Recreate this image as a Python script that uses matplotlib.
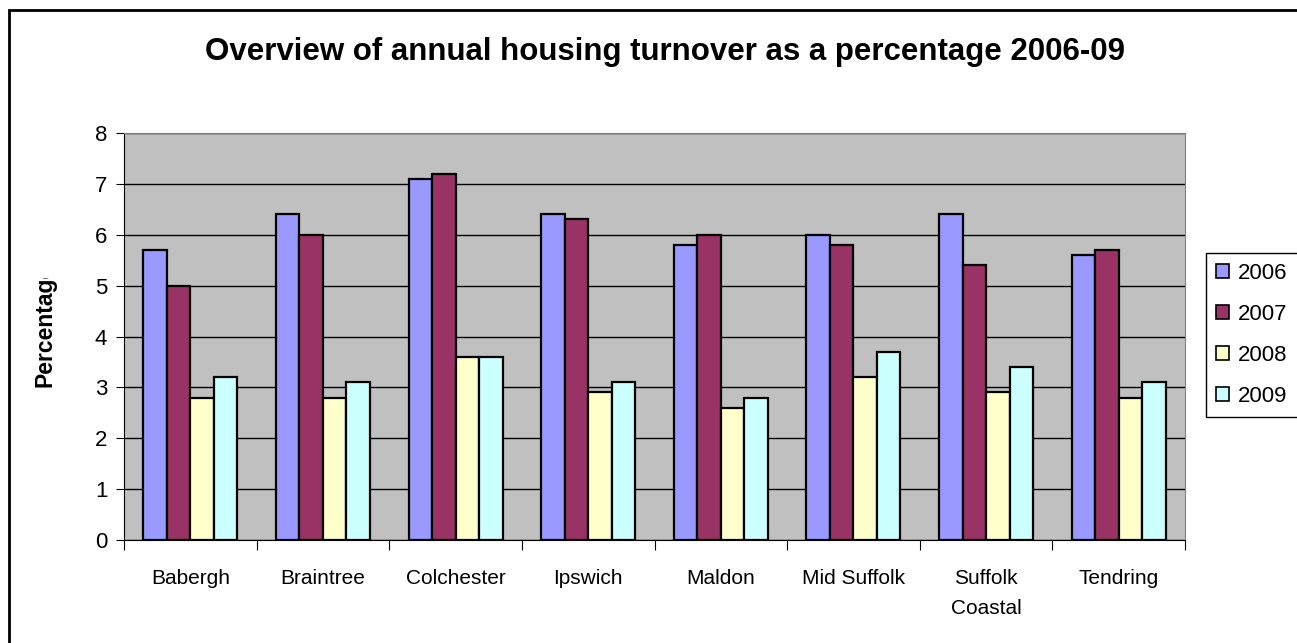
import matplotlib
matplotlib.use("Agg")
import matplotlib.pyplot as plt
from matplotlib.patches import Rectangle, Patch
from matplotlib.transforms import Bbox
import numpy as np

plt.rcParams['font.family'] = ['Liberation Sans', 'DejaVu Sans']

categories = ["Babergh", "Braintree", "Colchester", "Ipswich", "Maldon",
              "Mid Suffolk", "Suffolk\nCoastal", "Tendring"]
years = ["2006", "2007", "2008", "2009"]
v2006 = [5.7, 6.4, 7.1, 6.4, 5.8, 6.0, 6.4, 5.6]
v2007 = [5.0, 6.0, 7.2, 6.3, 6.0, 5.8, 5.4, 5.7]
v2008 = [2.8, 2.8, 3.6, 2.9, 2.6, 3.2, 2.9, 2.8]
v2009 = [3.2, 3.1, 3.6, 3.1, 2.8, 3.7, 3.4, 3.1]
series = [v2006, v2007, v2008, v2009]
colors = ["#9999FF", "#993366", "#FFFFCC", "#CCFFFF"]

W, H = 1297, 643
fig = plt.figure(figsize=(W / 100, H / 100), dpi=100)
ax = fig.add_axes([124 / W, 1 - 540 / H, (1185 - 124) / W, (540 - 133) / H])
ax.set_facecolor("#C0C0C0")

x = np.arange(len(categories))
bw = 0.177
for i, (vals, c) in enumerate(zip(series, colors)):
    ax.bar(x + (i - 1.5) * bw, vals, width=bw, color=c, edgecolor="black",
           linewidth=1.6, label=years[i], zorder=3)

ax.set_xlim(-0.5, len(categories) - 0.5)
ax.set_ylim(0, 8)
ax.set_yticks(range(0, 9))
ax.yaxis.grid(True, color="black", linewidth=1.0, zorder=1)
ax.set_axisbelow(True)
ax.tick_params(axis="y", labelsize=16, length=6, width=0.8, pad=6)
ax.set_xticks(x)
ax.set_xticklabels(categories, fontsize=15, linespacing=1.75)
ax.tick_params(axis="x", which="major", length=0, pad=21)
ax.set_xticks(np.arange(-0.5, len(categories)), minor=True)
ax.tick_params(axis="x", which="minor", length=7, width=0.8)
for s in ["top", "right"]:
    ax.spines[s].set_color("#808080")
for s in ["left", "bottom"]:
    ax.spines[s].set_color("black")
    ax.spines[s].set_linewidth(0.8)

fig.text(665 / W, 1 - 52 / H, "Overview of annual housing turnover as a percentage 2006-09",
         ha="center", va="center", fontsize=22.5, fontweight="bold")

# y-axis caption, cut off at the top of its label area
ylab = fig.text(45 / W, 1 - 387 / H, "Percentage", rotation=90, ha="center",
                va="bottom", fontsize=16.5, fontweight="bold")
ylab.set_clip_box(Bbox.from_extents(0, H - 400, 100, H - 278))
ylab.set_clip_on(True)

handles = [Patch(facecolor=c, edgecolor="black", linewidth=1.2) for c in colors]
fig.legend(handles, years, loc="upper left",
           bbox_to_anchor=(1206 / W, 1 - 253 / H), borderaxespad=0, fontsize=16,
           frameon=True, fancybox=False, edgecolor="black", framealpha=1,
           handlelength=0.6, handleheight=0.6, handletextpad=0.4,
           labelspacing=0.9, borderpad=0.45)

fig.add_artist(Rectangle((9 / W, -0.05), 1.1, 1 - 10 / H + 0.05,
                         transform=fig.transFigure, fill=False,
                         edgecolor="black", linewidth=2.0, clip_on=False))

fig.savefig("out.png", dpi=100)
